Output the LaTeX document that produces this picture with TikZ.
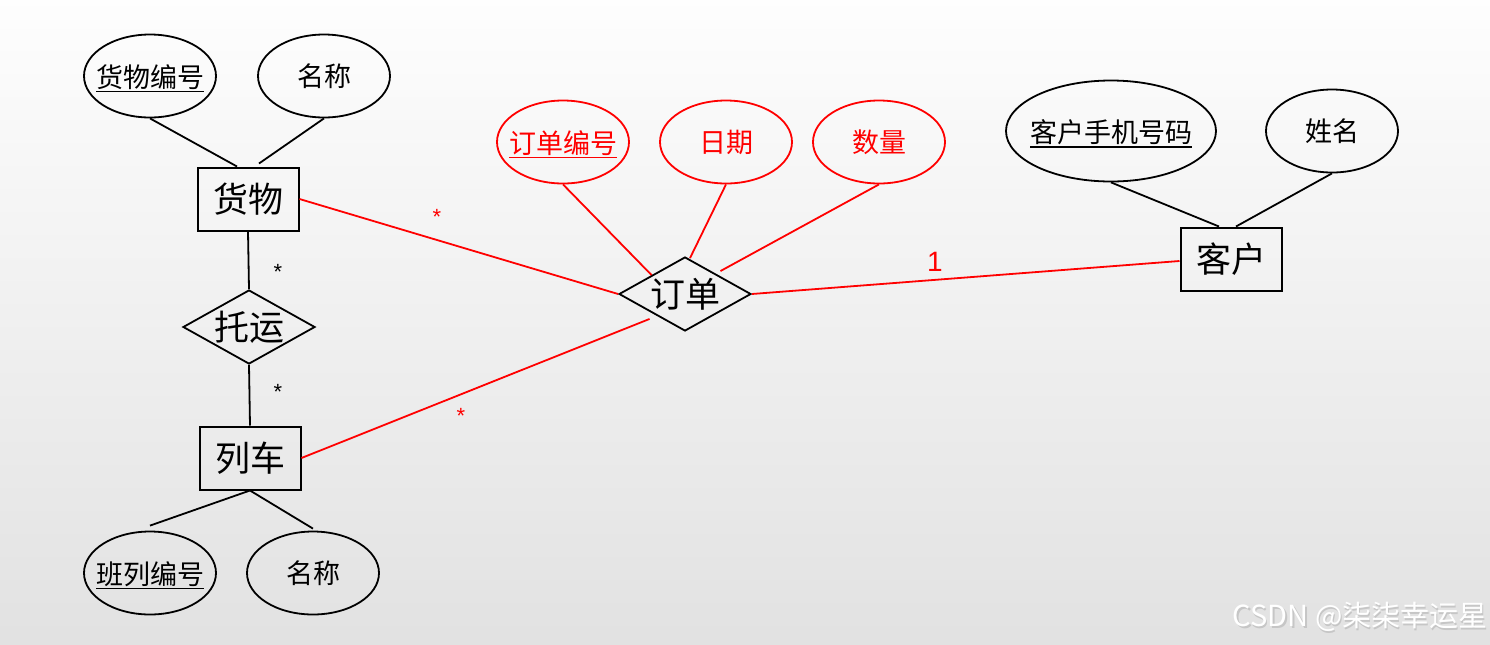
\documentclass[tikz,border=0pt]{standalone}
\usepackage{fontspec}
\newfontfamily\cjk{Noto Sans CJK SC}
\newfontfamily\lat{Liberation Sans}
\usetikzlibrary{shapes.geometric}
\newcommand\keyul[1]{\leavevmode\vtop{\hbox{#1}\kern0.6pt\hrule height 0.9pt}}
\begin{document}
\begin{tikzpicture}[x=0.5pt,y=-0.5pt,
  ent/.style={draw, line width=1pt, rectangle, minimum width=50.5pt, minimum height=31.5pt, inner sep=0pt, font=\cjk\fontsize{17.5}{20}\selectfont},
  attrtext/.style={font=\cjk\fontsize{13.5}{16}\selectfont, inner sep=0pt},
  attr/.style={draw, ellipse, line width=0.9pt, minimum width=66pt, minimum height=41.5pt, inner sep=0pt, label={[attrtext]center:#1}},
  kattr/.style={draw, ellipse, line width=0.9pt, minimum width=66pt, minimum height=41.5pt, inner sep=0pt, label={[attrtext, yshift=-1.2pt]center:#1}},
  rkattr/.style={kattr={\textcolor{red}{#1}}, draw=red},
  rattr/.style={attr={\textcolor{red}{#1}}, draw=red},
  reltext/.style={font=\cjk\fontsize{17.5}{20}\selectfont, inner sep=0pt},
  rel/.style={draw, diamond, line width=0.9pt, minimum width=66pt, minimum height=37pt, inner sep=0pt, label={[reltext]center:#1}},
  lnk/.style={line width=0.9pt, black},
  rlnk/.style={line width=0.9pt, red},
  card/.style={font=\lat\fontsize{11}{12}\selectfont, inner sep=0pt},
  wm/.style={font=\cjk\fontsize{14.5}{16}\selectfont, inner sep=0pt}
]
\shade[top color=white!99!gray, bottom color=gray!23] (0,0) rectangle (1490,644);
\useasboundingbox (0,0) rectangle (1490,644);

% 货物
\node[ent] (hw) at (248,199) {货物};
\node[kattr={\keyul{货物编号}}] (hwbh) at (150,76) {};
\node[attr={名称}] (hwmc) at (324,76) {};
\draw[lnk] (hwbh.south) -- ([xshift=-5.5pt]hw.north);
\draw[lnk] (hwmc.south) -- ([xshift=5.5pt,yshift=1.5pt]hw.north);

% 托运
\node[rel={托运}] (ty) at (249,327) {};
\draw[lnk] (hw.south) -- (ty.north);
\node[card] (s1) at (278,272) {*};

% 列车
\node[ent] (lc) at (250,458) {列车};
\draw[lnk] (ty.south) -- (lc.north);
\node[card] (s2) at (278,392) {*};
\node[kattr={\keyul{班列编号}}] (lcbh) at (150,573) {};
\node[attr={名称}] (lcmc) at (313,573) {};
\draw[lnk] (lc.south) -- ([yshift=2.5pt]lcbh.north);
\draw[lnk] (lc.south) -- ([yshift=1pt]lcmc.north);

% 订单
\node[rel={订单}] (dd) at (685,294) {};
\node[rkattr={\keyul{订单编号}}] (ddbh) at (563,142) {};
\node[rattr={日期}] (ddrq) at (726,142) {};
\node[rattr={数量}] (ddsl) at (879,142) {};
\draw[rlnk] (ddbh.south) -- (dd.north west);
\draw[rlnk] (ddrq.south) -- ([xshift=2.5pt,yshift=-1pt]dd.north);
\draw[rlnk] (ddsl.south) -- ([xshift=1pt,yshift=2pt]dd.north east);
\draw[rlnk] (hw.east) -- (dd.west);
\node[card, text=red] (s3) at (437,217) {*};
\draw[rlnk] (lc.east) -- ([xshift=-1pt,yshift=-3pt]dd.south west);
\node[card, text=red] (s4) at (461,416) {*};

% 客户
\node[ent] (kh) at (1231,259) {客户};
\node[kattr={\keyul{客户手机号码}}, minimum width=105pt, minimum height=50.5pt] (khsj) at (1111,131) {};
\node[attr={姓名}] (khxm) at (1332,131) {};
\draw[lnk] (khsj.south) -- ([xshift=-6pt]kh.north);
\draw[lnk] (khxm.south) -- ([xshift=2.5pt]kh.north);
\draw[rlnk] (dd.east) -- ([yshift=-1pt]kh.west);
\node[font=\lat\fontsize{14}{16}\selectfont, text=red, inner sep=0pt] (one) at (935,262) {1};

% watermark
\node[wm, text=gray!45] (wms) at (1361.5,618.5) {CSDN @柒柒幸运星};
\node[wm, text=white] (wmk) at (1360,617) {CSDN @柒柒幸运星};
\end{tikzpicture}
\end{document}
